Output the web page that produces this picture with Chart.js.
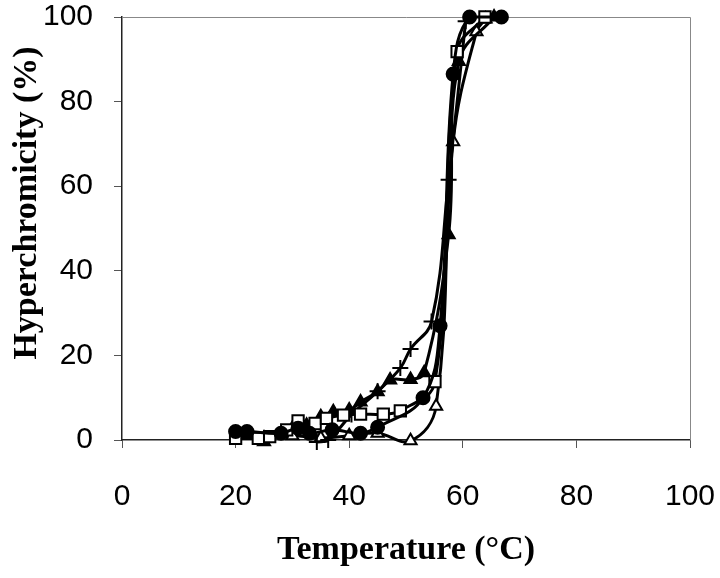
<!DOCTYPE html>
<html>
<head>
<meta charset="utf-8">
<script src="https://cdn.jsdelivr.net/npm/chart.js@4"></script>
<style>
	html, body { margin: 0; padding: 0; background: #fff; }
	#wrap { width: 720px; height: 578px; }
</style>
</head>
<body>
<div id="wrap"><canvas id="meltChart" width="720" height="578"></canvas></div>
<script>
// temperatures (°C) and hyperchromicity (%)
var circleTemp = [20, 22, 28, 31, 33, 37, 42, 45, 53, 56, 58.3, 61.2, 66.8];
var circleHyp  = [2, 2, 1.6, 2.8, 1.6, 2.4, 1.6, 3, 10, 27, 86.5, 100, 100];

var squareTemp = [20, 24, 26, 29, 31, 34, 36, 39, 42, 46, 49, 55.1, 59, 63.9];
var squareHyp  = [0.4, 0.4, 0.8, 2.4, 4.5, 3.9, 5.1, 5.9, 6.1, 6.1, 6.9, 13.8, 91.8, 100];

var triTemp = [25, 28, 30, 32.5, 35, 37.2, 40, 42, 45, 47.2, 50.8, 53.2, 57.5, 59.3, 65.5];
var triHyp  = [-0.4, 1.6, 2.8, 3.5, 5.5, 6.7, 7.1, 9, 11.4, 14.2, 14.3, 15.9, 48.5, 89.5, 100];

var plusTemp = [34.3, 36.3, 40.4, 45, 49, 50.8, 54.5, 57.5, 60.5];
var plusHyp  = [-0.5, 0, 6, 11.5, 17, 21.5, 28, 61.5, 99];

var openTriTemp = [25, 30, 35, 40, 45, 50.8, 55.3, 58.3, 62.4, 64];
var openTriHyp  = [0.5, 1, 0.5, 1, 1.6, -0.2, 8, 70.5, 96.5, 99.5];

var xTicks = [0, 20, 40, 60, 80, 100];
var yTicks = [0, 20, 40, 60, 80, 100];

function pairs(xs, ys) {
	var out = [];
	for (var i = 0; i < xs.length; i++) {
		out.push({x: xs[i], y: ys[i]});
	}
	return out;
}

function series(label, xs, ys, style, fill, radius) {
	return {
		label: label,
		data: pairs(xs, ys),
		borderColor: '#000',
		borderWidth: 3,
		tension: 0.4,
		pointStyle: style,
		pointRadius: radius,
		pointBorderWidth: 2,
		pointBorderColor: '#000',
		pointBackgroundColor: fill,
		clip: false
	};
}

var tickFont = {family: '"Liberation Sans", Arial', size: 30};
var titleFont = {family: '"Liberation Serif", "Times New Roman", serif', size: 34, weight: 'bold'};

// light frame on top/right, y title placed like the original
var framePlugin = {
	id: 'frame',
	beforeDatasetsDraw: function(chart) {
		var a = chart.chartArea, ctx = chart.ctx;
		ctx.save();
		ctx.strokeStyle = '#888';
		ctx.lineWidth = 1;
		ctx.beginPath();
		ctx.moveTo(a.left, a.top + 0.5);
		ctx.lineTo(a.right + 0.5, a.top + 0.5);
		ctx.lineTo(a.right + 0.5, a.bottom);
		ctx.stroke();
		ctx.restore();
	},
	afterDraw: function(chart) {
		var ctx = chart.ctx;
		ctx.save();
		ctx.translate(27, 203);
		ctx.rotate(-Math.PI / 2);
		ctx.font = 'bold 34px "Liberation Serif", "Times New Roman", serif';
		ctx.fillStyle = '#000';
		ctx.textAlign = 'center';
		ctx.textBaseline = 'middle';
		ctx.fillText('Hyperchromicity (%)', 0, 0);
		ctx.restore();
	}
};

var ctx = document.getElementById('meltChart').getContext('2d');
var meltChart = new Chart(ctx, {
	type: 'line',
	data: {
		datasets: [
			series('circles', circleTemp, circleHyp, 'circle', '#000', 6.5),
			series('squares', squareTemp, squareHyp, 'rect', '#fff', 8),
			series('triangles', triTemp, triHyp, 'triangle', '#000', 7),
			series('plus', plusTemp, plusHyp, 'cross', '#000', 8),
			series('open triangles', openTriTemp, openTriHyp, 'triangle', '#fff', 7)
		]
	},
	options: {
		responsive: false,
		animation: false,
		layout: {padding: {left: 0, right: 30, top: 17, bottom: 0}},
		plugins: {
			legend: {display: false},
			tooltip: {enabled: false}
		},
		scales: {
			x: {
				type: 'linear',
				min: 0,
				max: 100,
				afterBuildTicks: function(scale) {
					scale.ticks = xTicks.map(function(v) { return {value: v}; });
				},
				afterFit: function(scale) {
					scale.height = 138;
					scale.paddingLeft = 0;
					scale.paddingRight = 0;
				},
				grid: {drawOnChartArea: false, drawTicks: true, tickLength: 8, color: '#555'},
				border: {display: true, color: '#222', width: 1.5},
				ticks: {font: tickFont, color: '#000', padding: 31, maxRotation: 0},
				title: {display: true, text: 'Temperature (°C)', font: titleFont, color: '#000', padding: {top: 0, bottom: 7}}
			},
			y: {
				type: 'linear',
				min: 0,
				max: 100,
				afterBuildTicks: function(scale) {
					scale.ticks = yTicks.map(function(v) { return {value: v}; });
				},
				afterFit: function(scale) {
					scale.width = 122;
					scale.paddingTop = 0;
					scale.paddingBottom = 0;
				},
				grid: {drawOnChartArea: false, drawTicks: true, tickLength: 8, color: '#555'},
				border: {display: true, color: '#222', width: 1.5},
				ticks: {font: tickFont, color: '#000', padding: 21}
			}
		}
	},
	plugins: [framePlugin]
});
</script>
</body>
</html>
